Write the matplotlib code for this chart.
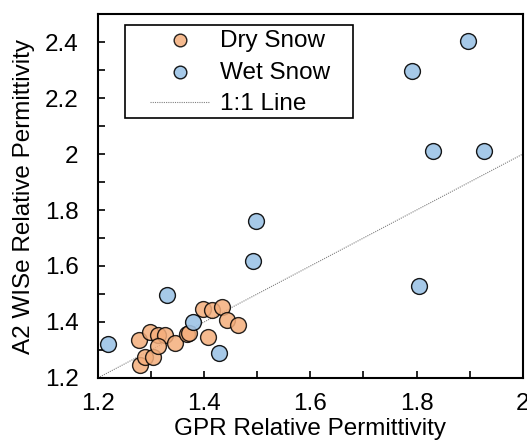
import numpy as np
import matplotlib.pyplot as plt
from matplotlib.patches import Rectangle
from matplotlib.ticker import MultipleLocator, FuncFormatter

plt.rcParams['font.family'] = ['Liberation Sans', 'DejaVu Sans']

# GPR vs A2 WISe relative permittivity
dry_gpr = [1.279, 1.288, 1.303, 1.277, 1.298, 1.313, 1.326, 1.313, 1.345,
           1.367, 1.371, 1.407, 1.397, 1.414, 1.433, 1.442, 1.463]
dry_wise = [1.247, 1.275, 1.275, 1.336, 1.365, 1.354, 1.354, 1.315, 1.325,
            1.358, 1.360, 1.347, 1.447, 1.444, 1.455, 1.408, 1.390]

wet_gpr = [1.219, 1.330, 1.379, 1.427, 1.491, 1.497, 1.897, 1.792, 1.830, 1.927, 1.805]
wet_wise = [1.322, 1.497, 1.401, 1.290, 1.619, 1.762, 2.404, 2.297, 2.010, 2.010, 1.530]

one_to_one = [1.2, 2.0]

fig = plt.figure(figsize=(5.27, 4.43), dpi=100)
ax = fig.add_axes([0.186, 0.147, 0.806, 0.821])

ax.scatter(dry_gpr, dry_wise, s=130, c='#F4AE7C', edgecolors='black', linewidths=1,
           alpha=0.85, zorder=3, label='Dry Snow')
ax.scatter(wet_gpr, wet_wise, s=130, c='#9DC3E6', edgecolors='black', linewidths=1,
           alpha=0.9, zorder=3, label='Wet Snow')
ax.plot(one_to_one, one_to_one, ls=(0, (1, 1)), color='#808080', lw=0.8,
        zorder=2, label='1:1 Line')

ax.set_xlim(1.2, 2.0)
ax.set_ylim(1.2, 2.5)
ax.xaxis.set_major_locator(MultipleLocator(0.2))
ax.xaxis.set_minor_locator(MultipleLocator(0.1))
ax.yaxis.set_major_locator(MultipleLocator(0.2))
ax.yaxis.set_minor_locator(MultipleLocator(0.1))
fmt = FuncFormatter(lambda v, p: f'{v:g}')
ax.xaxis.set_major_formatter(fmt)
ax.yaxis.set_major_formatter(fmt)
ax.tick_params(which='both', direction='in', length=5, width=1.2,
               top=False, right=False, labelsize=17.5)
ax.tick_params(axis='x', pad=11)
ax.tick_params(axis='y', pad=14)

for sp in ax.spines.values():
    sp.set_linewidth(1.5)

ax.set_xlabel('GPR Relative Permittivity', fontsize=17.5, labelpad=2)
ax.set_ylabel('A2 WISe Relative Permittivity', fontsize=17.5, labelpad=7)

# legend entries without frame, frame drawn separately
leg = ax.legend(loc='upper left', bbox_to_anchor=(0.122, 0.957), fontsize=17.5,
                frameon=False, handlelength=2.47, handletextpad=0.42,
                borderpad=0, labelspacing=0.4, borderaxespad=0, markerscale=0.8)
ax.add_patch(Rectangle((0.0635, 0.714), 0.536, 0.256, transform=ax.transAxes,
                       facecolor='white', edgecolor='black', lw=1.2, zorder=4))
leg.set_zorder(5)

fig.savefig('out.png', dpi=100)
